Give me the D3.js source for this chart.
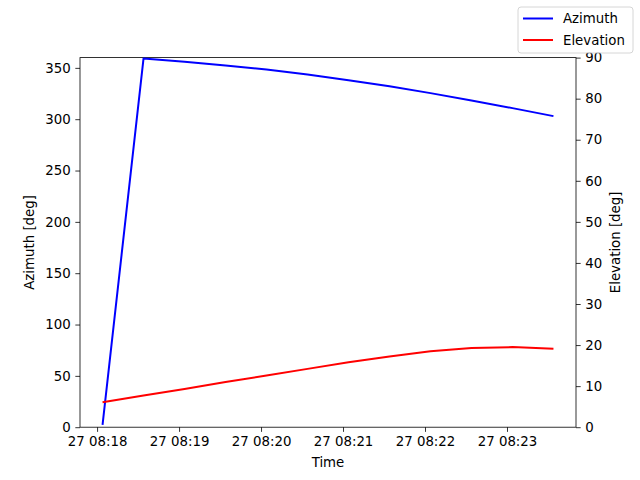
<!DOCTYPE html>
<html>
<head>
<meta charset="utf-8">
<script src="https://cdn.jsdelivr.net/npm/d3@7"></script>
<style>
  body { margin: 0; background: #fff; }
  text { font-family: "DejaVu Sans", sans-serif; font-size: 13.33px; fill: #000; }
</style>
</head>
<body>
<div id="chart"></div>
<script>
// samples every 30 s, day 27
const times = ["08:18:04", "08:18:34", "08:19:04", "08:19:34", "08:20:04", "08:20:34",
               "08:21:04", "08:21:34", "08:22:04", "08:22:34", "08:23:04", "08:23:34"];
const azimuth = [2.2, 359.2, 356.0, 352.4, 348.3, 343.5, 338.0, 332.0, 325.4, 318.3, 310.8, 303.0];
const elevation = [6.1, 7.7, 9.3, 11.0, 12.6, 14.2, 15.8, 17.2, 18.5, 19.3, 19.5, 19.1];
const azTicks = [0, 50, 100, 150, 200, 250, 300, 350];
const elTicks = [0, 10, 20, 30, 40, 50, 60, 70, 80, 90];

const W = 640, H = 480;
const margin = {top: 57.6, right: 64, bottom: 52.8, left: 80};
const width = W - margin.left - margin.right,
      height = H - margin.top - margin.bottom;

const parse = d3.timeParse("%Y-%m-%d %H:%M:%S");
const dates = times.map(t => parse("2024-05-27 " + t));

const svg = d3.select("#chart").append("svg")
    .attr("width", W).attr("height", H);
const g = svg.append("g")
    .attr("transform", `translate(${margin.left},${margin.top})`);

// matplotlib-like 5% padding on x
const ext = d3.extent(dates);
const pad = (ext[1] - ext[0]) * 0.05;
const x = d3.scaleTime()
    .domain([new Date(+ext[0] - pad), new Date(+ext[1] + pad)])
    .range([0, width]);
const yL = d3.scaleLinear().domain([0, 360]).range([height, 0]);
const yR = d3.scaleLinear().domain([0, 90]).range([height, 0]);

const styleAxis = sel => {
    sel.select(".domain").remove();
    sel.selectAll(".tick line").attr("stroke", "#000").attr("stroke-width", 0.8);
    sel.selectAll(".tick text").style("font-size", "13.33px").style("font-family", "DejaVu Sans, sans-serif");
};

g.append("g")
    .attr("transform", `translate(0,${height})`)
    .call(d3.axisBottom(x).ticks(d3.timeMinute.every(1)).tickFormat(d3.timeFormat("%d %H:%M"))
        .tickSize(4.67).tickPadding(4.67))
    .call(styleAxis);

g.append("g")
    .call(d3.axisLeft(yL).tickValues(azTicks).tickSize(4.67).tickPadding(4.67))
    .call(styleAxis);

g.append("g")
    .attr("transform", `translate(${width},0)`)
    .call(d3.axisRight(yR).tickValues(elTicks).tickSize(4.67).tickPadding(4.67))
    .call(styleAxis);

g.append("rect")
    .attr("width", width).attr("height", height)
    .attr("fill", "none").attr("stroke", "#000").attr("stroke-width", 0.8);

const azLine = d3.line().x((d, i) => x(dates[i])).y(d => yL(d));
const elLine = d3.line().x((d, i) => x(dates[i])).y(d => yR(d));

g.append("path").datum(azimuth)
    .attr("fill", "none").attr("stroke", "#0000ff").attr("stroke-width", 2)
    .attr("stroke-linejoin", "round").attr("d", azLine);
g.append("path").datum(elevation)
    .attr("fill", "none").attr("stroke", "#ff0000").attr("stroke-width", 2)
    .attr("stroke-linejoin", "round").attr("d", elLine);

// axis labels
svg.append("text")
    .attr("x", margin.left + width / 2).attr("y", 467)
    .attr("text-anchor", "middle").text("Time");
svg.append("text")
    .attr("transform", `translate(34,${margin.top + height / 2}) rotate(-90)`)
    .attr("text-anchor", "middle").text("Azimuth [deg]");
svg.append("text")
    .attr("transform", `translate(620,${margin.top + height / 2}) rotate(-90)`)
    .attr("text-anchor", "middle").text("Elevation [deg]");

// figure legend, upper right
const legend = svg.append("g").attr("transform", "translate(518,7)");
legend.append("rect")
    .attr("width", 115).attr("height", 46).attr("rx", 3)
    .attr("fill", "#fff").attr("fill-opacity", 0.8)
    .attr("stroke", "#cccccc").attr("stroke-width", 0.8);
[{label: "Azimuth", color: "#0000ff"}, {label: "Elevation", color: "#ff0000"}].forEach((d, i) => {
    const row = legend.append("g").attr("transform", `translate(0,${11.5 + i * 21.5})`);
    row.append("line")
        .attr("x1", 5).attr("x2", 35)
        .attr("stroke", d.color).attr("stroke-width", 2);
    row.append("text")
        .attr("x", 45).attr("dy", "0.35em")
        .text(d.label);
});
</script>
</body>
</html>
